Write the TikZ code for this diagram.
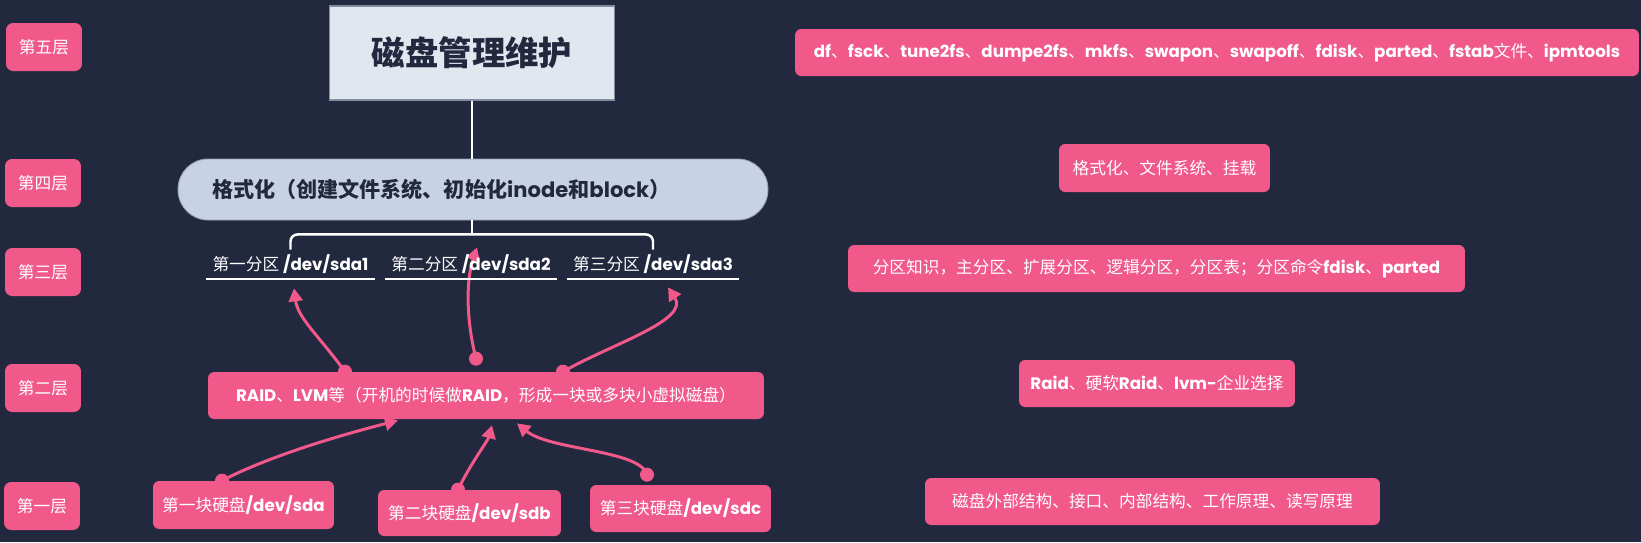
\documentclass[tikz,border=0pt]{standalone}
\usepackage{fontspec}
\setmainfont{Noto Sans CJK SC}
\newfontfamily\latfont{Poppins}
\usepackage{tikz}
\usetikzlibrary{arrows.meta, positioning, backgrounds}
\definecolor{bgdark}{RGB}{34,40,62}
\definecolor{mypink}{RGB}{240,89,138}
\definecolor{titlegray}{RGB}{225,230,239}
\definecolor{titleedge}{RGB}{130,140,160}
\definecolor{pillblue}{RGB}{199,211,228}
\definecolor{pilledge}{RGB}{150,160,185}
\definecolor{txtdark}{RGB}{34,40,62}
\newcommand{\en}[1]{{\latfont\bfseries #1}}
\tikzset{
  lyrbox/.style={rectangle,fill=mypink,rounded corners=4pt,minimum width=1.52cm,
    minimum height=0.96cm,inner sep=0pt,text=white,font=\fontsize{9.5}{11}\selectfont},
  pinkbox/.style={rectangle,fill=mypink,rounded corners=3.5pt,minimum height=0.94cm,
    inner sep=0pt,text=white,font=\fontsize{9.5}{11}\selectfont},
  titlebox/.style={rectangle,fill=titlegray,draw=titleedge,line width=0.6pt,minimum width=5.7cm,
    minimum height=1.88cm,text=txtdark,font=\fontsize{19}{22}\selectfont\bfseries},
  pill/.style={rectangle,rounded corners=0.6cm,fill=pillblue,draw=pilledge,line width=0.5pt,
    text width=10.44cm,align=left,inner xsep=0.68cm,inner ysep=0pt,minimum height=1.22cm,
    text=txtdark,font=\fontsize{12}{14}\selectfont\bfseries},
  partlbl/.style={rectangle,minimum height=0.58cm,inner sep=0pt,text=white,
    font=\fontsize{9.5}{11}\selectfont},
  tree/.style={draw=white,line width=1.4pt},
  uline/.style={draw=white,line width=1.2pt},
  pinkarrow/.style={draw=mypink,line width=1.7pt,-{Triangle[length=2.6mm,width=2.8mm]}},
  dot/.style={fill=mypink}
}

\begin{document}
\begin{tikzpicture}[x=0.02cm,y=-0.02cm]
  \useasboundingbox (0,0) rectangle (1641,542);
  % layer labels
  \node[lyrbox] (l5) at (44,47) {第五层};
  \node[lyrbox] (l4) at (43,183) {第四层};
  \node[lyrbox] (l3) at (43,272) {第三层};
  \node[lyrbox] (l2) at (43,388) {第二层};
  \node[lyrbox] (l1) at (42,506) {第一层};

  % main column
  \node[titlebox] (title) at (472,53) {磁盘管理维护};
  \node[pill] (fmt) at (473,189.5) {格式化（创建文件系统、初始化\en{inode}和\en{block}）};
  \node[partlbl, minimum width=3.38cm] (p1) at (290.5,264.5) {第一分区 \en{/dev/sda1}};
  \node[partlbl, minimum width=3.44cm] (p2) at (471,264.5) {第二分区 \en{/dev/sda2}};
  \node[partlbl, minimum width=3.44cm] (p3) at (653,264.5) {第三分区 \en{/dev/sda3}};
  \node[pinkbox, minimum width=11.12cm] (raid) at (486,395.5)
    {\en{RAID}、\en{LVM}等（开机的时候做\en{RAID}，形成一块或多块小虚拟磁盘）};
  \node[pinkbox, minimum width=3.62cm, minimum height=0.96cm] (d1) at (243.5,505) {第一块硬盘\en{/dev/sda}};
  \node[pinkbox, minimum width=3.66cm, minimum height=0.92cm] (d2) at (469.5,513) {第二块硬盘\en{/dev/sdb}};
  \node[pinkbox, minimum width=3.62cm] (d3) at (680.5,508.5) {第三块硬盘\en{/dev/sdc}};

  % notes on the right
  \node[pinkbox, minimum width=16.88cm] (n5) at (1217,52.5)
    {\en{df}、\en{fsck}、\en{tune2fs}、\en{dumpe2fs}、\en{mkfs}、\en{swapon}、\en{swapoff}、\en{fdisk}、\en{parted}、\en{fstab}文件、\en{ipmtools}};
  \node[pinkbox, minimum width=4.22cm, minimum height=0.96cm] (n4) at (1164.5,168) {格式化、文件系统、挂载};
  \node[pinkbox, minimum width=12.34cm] (n3) at (1156.5,268.5)
    {分区知识，主分区、扩展分区、逻辑分区，分区表；分区命令\en{fdisk}、\en{parted}};
  \node[pinkbox, minimum width=5.52cm] (n2) at (1157,383.5) {\en{Raid}、硬软\en{Raid}、\en{lvm-}企业选择};
  \node[pinkbox, minimum width=9.1cm] (n1) at (1152.5,501.5) {磁盘外部结构、接口、内部结构、工作原理、读写原理};

  % tree lines
  \draw[tree] (title.south) -- (title.south |- fmt.north);
  \draw[tree] (title.south |- fmt.south) -- ++(0,14) coordinate (brk);
  \draw[tree, rounded corners=4pt] (p1.north) |- (brk) -| (p3.north);
  \draw[uline] (p1.south west) -- (p1.south east);
  \draw[uline] (p2.south west) -- (p2.south east);
  \draw[uline] (p3.south west) -- (p3.south east);

  \begin{pgfonlayer}{background}
    \fill[bgdark] (0,0) rectangle (1641,542);
    % partitions -> raid
    \fill[dot] ([shift={(-141,0)}]raid.north) circle[radius=1.4mm];
    \draw[pinkarrow] ([shift={(-141,0)}]raid.north) .. controls +(-27,-37) and +(4,30) .. ([shift={(3.5,9)}]p1.south);
    \fill[dot] ([shift={(-10,-13)}]raid.north) circle[radius=1.4mm];
    \draw[pinkarrow] ([shift={(-10,-13)}]raid.north) .. controls +(-10,-39) and +(-11,33) .. ([shift={(6,-32)}]p2.south);
    \fill[dot] ([shift={(77,0)}]raid.north) circle[radius=1.4mm];
    \draw[pinkarrow] ([shift={(77,0)}]raid.north) .. controls +(47,-27) and +(22,33) .. ([shift={(15,8)}]p3.south);
    % disks -> raid
    \fill[dot] ([shift={(-21.5,0)}]d1.north) circle[radius=1.4mm];
    \draw[pinkarrow] ([shift={(-21.5,0)}]d1.north) .. controls +(48,-25) and +(-58,15) .. ([shift={(-88,1)}]raid.south);
    \fill[dot] ([shift={(-11.5,0)}]d2.north) circle[radius=1.4mm];
    \draw[pinkarrow] ([shift={(-11.5,0)}]d2.north) .. controls +(12,-25) and +(-4,15) .. ([shift={(6,6)}]raid.south);
    \fill[dot] ([shift={(-33.5,-10)}]d3.north) circle[radius=1.4mm];
    \draw[pinkarrow] ([shift={(-33.5,-10)}]d3.north) .. controls +(-7,-25) and +(33,27) .. ([shift={(31,4)}]raid.south);
  \end{pgfonlayer}
\end{tikzpicture}
\end{document}
